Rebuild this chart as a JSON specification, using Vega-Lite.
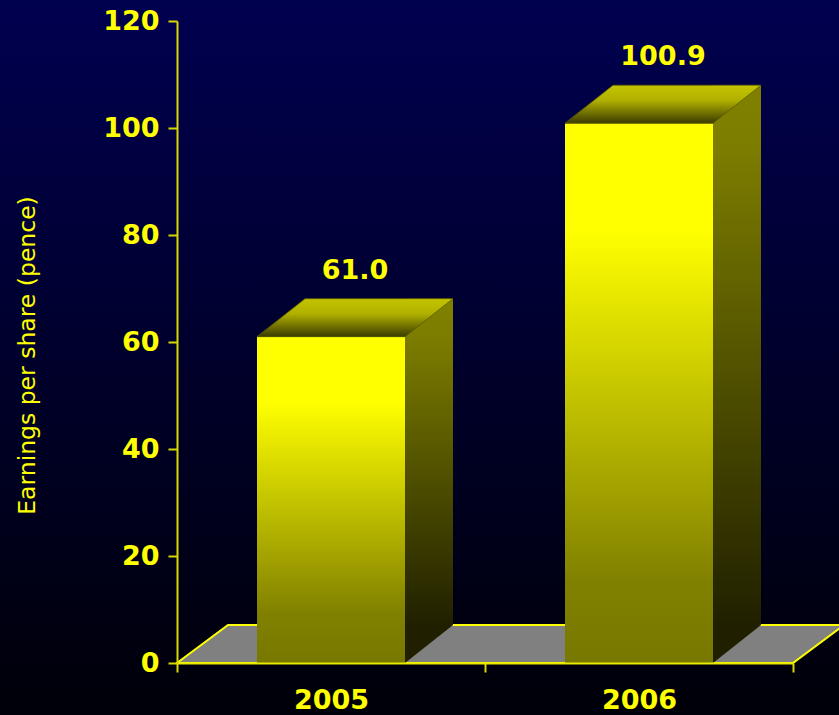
{
  "$schema": "https://vega.github.io/schema/vega-lite/v6.json",
  "width": 839,
  "height": 715,
  "autosize": {"type": "none"},
  "padding": 0,
  "background": "#000008",
  "view": {
    "stroke": null,
    "fill": {
      "gradient": "linear", "x1": 0, "y1": 0, "x2": 0, "y2": 1,
      "stops": [
        {"offset": 0, "color": "#000050"},
        {"offset": 1, "color": "#000008"}
      ]
    }
  },
  "data": {
    "values": [
      {"year": "2005", "eps": 61.0},
      {"year": "2006", "eps": 100.9}
    ]
  },
  "encoding": {
    "x": {
      "field": "year", "type": "nominal",
      "scale": {"type": "band", "domain": ["2005", "2006"], "range": [177, 793], "paddingInner": 0, "paddingOuter": 0, "round": false},
      "axis": {
        "orient": "bottom", "offset": -52, "title": null, "labelAngle": 0,
        "tickBand": "extent", "tickSize": 9, "tickWidth": 2, "tickColor": "#d8d800",
        "domainColor": "#e8e800", "domainWidth": 2,
        "labelFont": "DejaVu Sans", "labelFontWeight": "bold", "labelFontSize": 27,
        "labelColor": "#ffff00", "labelPadding": 15, "zindex": 1
      }
    },
    "y": {
      "field": "eps", "type": "quantitative",
      "scale": {"domain": [0, 120], "range": [663, 21], "nice": false, "zero": true},
      "axis": {
        "orient": "left", "offset": -177, "values": [0, 20, 40, 60, 80, 100, 120],
        "grid": false, "tickSize": 9, "tickWidth": 2, "tickColor": "#d8d800",
        "domainColor": "#d8d800", "domainWidth": 2,
        "labelFont": "DejaVu Sans", "labelFontWeight": "bold", "labelFontSize": 27,
        "labelColor": "#ffff00", "labelPadding": 9,
        "title": "Earnings per share (pence)",
        "titleFont": "DejaVu Sans", "titleFontWeight": "normal", "titleFontSize": 23.5,
        "titleColor": "#ffff00", "titleX": -150, "titleY": 355, "titleAngle": -90,
        "titleAlign": "center", "titleBaseline": "middle", "zindex": 1
      }
    }
  },
  "layer": [
    {
      "transform": [{"filter": "datum.year === '2005'"}],
      "mark": {
        "type": "point", "filled": true, "opacity": 1, "size": 40000,
        "shape": "M-1.54,0L4.62,0L5.13,-0.38L-1.03,-0.38Z",
        "fill": "#808080", "stroke": "#ffff00", "strokeWidth": 2
      },
      "encoding": {"y": {"datum": 0}}
    },
    {
      "mark": {
        "type": "bar", "width": 148,
        "fill": {
          "gradient": "linear", "x1": 0, "y1": 0, "x2": 0, "y2": 1,
          "stops": [
            {"offset": 0, "color": "#ffff00"},
            {"offset": 0.2, "color": "#ffff00"},
            {"offset": 0.85, "color": "#808000"},
            {"offset": 1, "color": "#787800"}
          ]
        }
      }
    },
    {
      "mark": {
        "type": "bar", "width": 48, "xOffset": 98, "yOffset": -38, "y2Offset": -38,
        "fill": {
          "gradient": "linear", "x1": 0, "y1": 0, "x2": 0, "y2": 1,
          "stops": [
            {"offset": 0, "color": "#808000"},
            {"offset": 0.12, "color": "#7c7c00"},
            {"offset": 1, "color": "#202000"}
          ]
        }
      },
      "encoding": {"y2": {"datum": 0}}
    },
    {
      "mark": {
        "type": "point", "filled": true, "opacity": 1, "size": 40000,
        "shape": "M0.74,-0.38L0.74,0L1.22,-0.38Z",
        "fill": "#202000", "strokeWidth": 0
      },
      "encoding": {"y": {"datum": 0}}
    },
    {
      "mark": {
        "type": "point", "filled": true, "opacity": 1, "size": 40000,
        "shape": "M-0.74,0L0.74,0L1.22,-0.38L-0.26,-0.38Z",
        "stroke": "#5a5a00", "strokeWidth": 0.8,
        "fill": {
          "gradient": "linear", "x1": 0, "y1": 0, "x2": 0, "y2": 1,
          "stops": [
            {"offset": 0, "color": "#c4c400"},
            {"offset": 0.4, "color": "#b0b000"},
            {"offset": 1, "color": "#3c3c00"}
          ]
        }
      }
    },
    {
      "mark": {
        "type": "text", "dx": 24, "dy": -58, "baseline": "alphabetic", "align": "center",
        "font": "DejaVu Sans", "fontWeight": "bold", "fontSize": 27, "color": "#ffff00"
      },
      "encoding": {"text": {"field": "eps", "type": "quantitative", "format": ".1f"}}
    }
  ]
}
